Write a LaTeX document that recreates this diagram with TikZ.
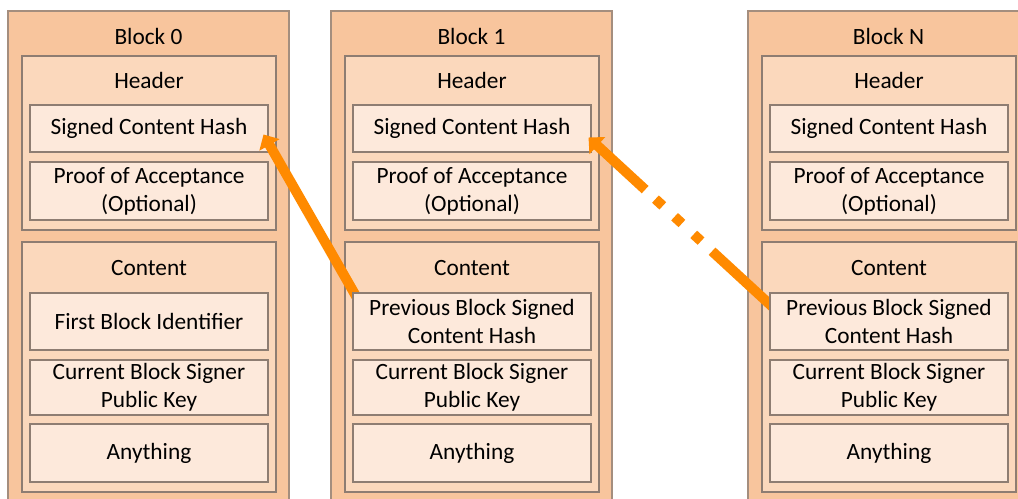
\documentclass[tikz,border=0pt]{standalone}
\usepackage{fontspec}
\setmainfont{Carlito}
\usetikzlibrary{calc,arrows.meta}
\pgfdeclarelayer{bg}
\pgfdeclarelayer{mid}
\pgfsetlayers{bg,mid,main}
\definecolor{outerfill}{HTML}{F8C59D}
\definecolor{midfill}{HTML}{FBD8BC}
\definecolor{itemfill}{HTML}{FDE9DB}
\definecolor{edge}{HTML}{8E7D72}
\definecolor{outeredge}{HTML}{A48E7E}
\definecolor{arrowc}{HTML}{FF8A00}
\tikzset{
  every node/.style={font=\fontsize{17.5}{21}\selectfont},
  sz/.style 2 args={minimum width=#1*0.75pt, minimum height=#2*0.75pt},
  box/.style={rectangle, inner sep=0pt, line width=0.8pt, draw=edge, align=center},
  outerbox/.style={box, fill=outerfill, draw=outeredge},
  midbox/.style={box, fill=midfill, sz={254}{#1}},
  itembox/.style={box, fill=itemfill, sz={238}{#1}},
  lbl/.style={inner sep=0pt, anchor=base},
  arr/.style={draw=arrowc, line width=7.5pt, -{Triangle[length=9pt,width=17pt]}},
}
\newcommand\drawblock[4]{%
  \begin{pgfonlayer}{bg}
    \node[outerbox, sz={281}{491}] (#1outer) at (#2+140.5, 256.5) {};
    \node[lbl] (#1title) at (#2+140.5, 44.5) {#3};
    \node[midbox=174] (#1header) at (#2+141, 143) {};
    \node[lbl] (#1htext) at (#2+141, 89) {Header};
    \node[itembox=47] (#1sch) at (#2+141, 128.5) {Signed Content Hash};
    \node[itembox=58] (#1poa) at (#2+141, 191) {Proof of Acceptance\\(Optional)};
    \node[midbox=250] (#1content) at (#2+141, 367) {};
    \node[lbl] (#1ctext) at (#2+141, 275.5) {Content};
    \node[itembox=55] (#1signer) at (#2+141, 387.5) {Current Block Signer\\Public Key};
    \node[itembox=58] (#1any) at (#2+141, 453) {Anything};
  \end{pgfonlayer}
  \node[itembox=57] (#1first) at (#2+141, 321.5) {#4};
}
\begin{document}
\begin{tikzpicture}[x=0.75pt,y=-0.75pt]
  \useasboundingbox (0,0) rectangle (1018,499);
  \drawblock{bzero}{8}{Block 0}{First Block Identifier}
  \drawblock{bone}{331}{Block 1}{Previous Block Signed\\Content Hash}
  \drawblock{bN}{748}{Block N}{Previous Block Signed\\Content Hash}
  \begin{pgfonlayer}{mid}
    \draw[arr] ($(bonefirst.north west)+(6,8)$) -- ($(bzerosch.east)+(-5,6)$);
    \draw[arr, dash pattern=on 66.7pt off 11.2pt on 7.5pt off 12pt on 7.5pt off 12pt on 7.5pt off 10.5pt on 300pt]
      ($(bNfirst.north west)+(8,19)$) -- ($(bonesch.east)+(-3,9)$);
  \end{pgfonlayer}
\end{tikzpicture}
\end{document}
